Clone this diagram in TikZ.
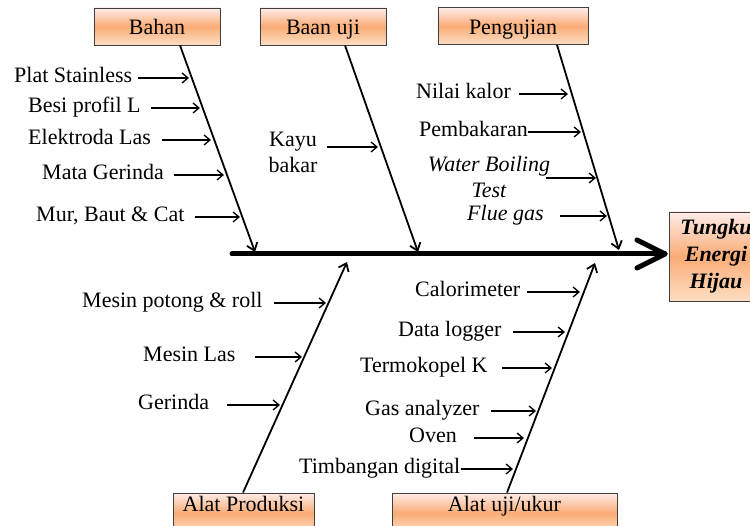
\documentclass[tikz,border=0pt]{standalone}
\usepackage{fontspec}
\setmainfont{Liberation Serif}
\usetikzlibrary{arrows.meta,calc}
\definecolor{boxtop}{RGB}{255,236,232}
\definecolor{boxmid}{RGB}{250,172,118}
\definecolor{boxbot}{RGB}{253,222,196}
\begin{document}
\begin{tikzpicture}[x=1pt,y=-1pt,
  lbl/.style={font=\fontsize{22}{26}\selectfont, inner sep=0pt, text height=15pt, text depth=5pt, anchor=west},
  ml/.style={font=\fontsize{22}{26}\selectfont, inner sep=0pt, align=center},
  catbox/.style={draw=black!75, line width=0.8pt, top color=boxtop, bottom color=boxbot, middle color=boxmid, minimum height=37pt, inner sep=0pt, text height=17pt, text depth=0pt, font=\fontsize{22}{26}\selectfont},
  lowbox/.style={catbox, minimum height=40pt, text height=15pt, text depth=18pt},
  sub/.style={line width=1.3pt, -{Straight Barb[length=6pt,width=10pt]}},
  bone/.style={line width=1.8pt, -{Straight Barb[length=7pt,width=11pt]}},
  spine/.style={line width=5pt, line cap=round, line join=round}]
\useasboundingbox (0,0) rectangle (750,526);

% category boxes
\node[catbox, minimum width=126pt] (bahan) at (157,26.5) {Bahan};
\node[catbox, minimum width=126pt] (baanuji) at (323,26.5) {Baan uji};
\node[catbox, minimum width=150pt] (pengujian) at (513,26) {Pengujian};
\node[lowbox, minimum width=141pt] (alatprod) at (243.5,513) {Alat Produksi};
\node[lowbox, minimum width=225pt] (alatuji) at (504.5,513) {Alat uji/ukur};
\node[catbox, minimum width=94pt, minimum height=89pt, text height=, text depth=, align=center, font=\fontsize{22}{27}\selectfont\bfseries\itshape] (tungku) at (716,256.5) {Tungku\\Energi\\Hijau};

% spine
\coordinate (spS) at (232,254);
\coordinate (spT) at (665,254);
\draw[spine] (spS) -- (spT);
\draw[spine] ($(spT)+(-28,-14)$) -- (spT) -- ($(spT)+(-28,14)$);

% bones
\coordinate (bB) at (255,252);
\coordinate (bU) at (418,252);
\coordinate (bP) at (619,250);
\coordinate (bA) at (347,262);
\coordinate (bK) at (595,263);
\draw[bone] ([xshift=23pt]bahan.south) -- (bB);
\draw[bone] ([xshift=22pt]baanuji.south) -- (bU);
\draw[bone] ([xshift=44pt]pengujian.south) -- (bP);
\draw[bone] ([xshift=-0.5pt]alatprod.north) -- (bA);
\draw[bone] ([xshift=2.5pt]alatuji.north) -- (bK);

% Bahan
\node[lbl] (l1) at (14,78) {Plat Stainless};
\node[lbl] (l2) at (28,108) {Besi profil L};
\node[lbl] (l3) at (28,140) {Elektroda Las};
\node[lbl] (l4) at (42,175) {Mata Gerinda};
\node[lbl] (l5) at (36,217) {Mur, Baut \& Cat};
\coordinate (t1) at (189,78);
\coordinate (t2) at (200,108);
\coordinate (t3) at (211,140);
\coordinate (t4) at (224,175);
\coordinate (t5) at (240,217);
\draw[sub] ([xshift=6pt]l1.east) -- (t1);
\draw[sub] ([xshift=10pt]l2.east) -- (t2);
\draw[sub] ([xshift=11pt]l3.east) -- (t3);
\draw[sub] ([xshift=10pt]l4.east) -- (t4);
\draw[sub] ([xshift=10pt]l5.east) -- (t5);

% Baan uji
\node[ml] (l6) at (293,152) {Kayu\\bakar};
\coordinate (t6) at (378,147);
\draw[sub] ($(l6.east |- t6)+(9,0)$) -- (t6);

% Pengujian
\node[lbl] (l7) at (416,94) {Nilai kalor};
\node[lbl] (l8) at (419,132) {Pembakaran};
\node[ml, font=\fontsize{22}{26}\selectfont\itshape] (l9) at (489,177) {Water Boiling\\Test};
\node[lbl, font=\fontsize{22}{26}\selectfont\itshape] (l10) at (467,216) {Flue gas};
\coordinate (t7) at (568,94);
\coordinate (t8) at (581,132);
\coordinate (t9) at (596,178);
\coordinate (t10) at (607,216);
\draw[sub] ([xshift=8pt]l7.east) -- (t7);
\draw[sub] (l8.east) -- (t8);
\draw[sub] ($(l9.east |- t9)+(-4,0)$) -- (t9);
\draw[sub] ([xshift=16pt]l10.east) -- (t10);

% Alat Produksi
\node[lbl] (l11) at (82,303) {Mesin potong \& roll};
\node[lbl] (l12) at (143,357) {Mesin Las};
\node[lbl] (l13) at (138,405) {Gerinda};
\coordinate (t11) at (326,303);
\coordinate (t12) at (302,357);
\coordinate (t13) at (280,405);
\draw[sub] ([xshift=11pt]l11.east) -- (t11);
\draw[sub] ([xshift=19pt]l12.east) -- (t12);
\draw[sub] ([xshift=18pt]l13.east) -- (t13);

% Alat uji/ukur
\node[lbl] (l14) at (415,292) {Calorimeter};
\node[lbl] (l15) at (398,332) {Data logger};
\node[lbl] (l16) at (360,368) {Termokopel K};
\node[lbl] (l17) at (365,411) {Gas analyzer};
\node[lbl] (l18) at (409,438) {Oven};
\node[lbl] (l19) at (299,469) {Timbangan digital};
\coordinate (t14) at (580,292);
\coordinate (t15) at (565,332);
\coordinate (t16) at (552,368);
\coordinate (t17) at (536,411);
\coordinate (t18) at (524,438);
\coordinate (t19) at (513,469);
\draw[sub] ([xshift=7pt]l14.east) -- (t14);
\draw[sub] ([xshift=11pt]l15.east) -- (t15);
\draw[sub] ([xshift=14pt]l16.east) -- (t16);
\draw[sub] ([xshift=11pt]l17.east) -- (t17);
\draw[sub] ([xshift=17pt]l18.east) -- (t18);
\draw[sub] (l19.east) -- (t19);
\end{tikzpicture}
\end{document}
